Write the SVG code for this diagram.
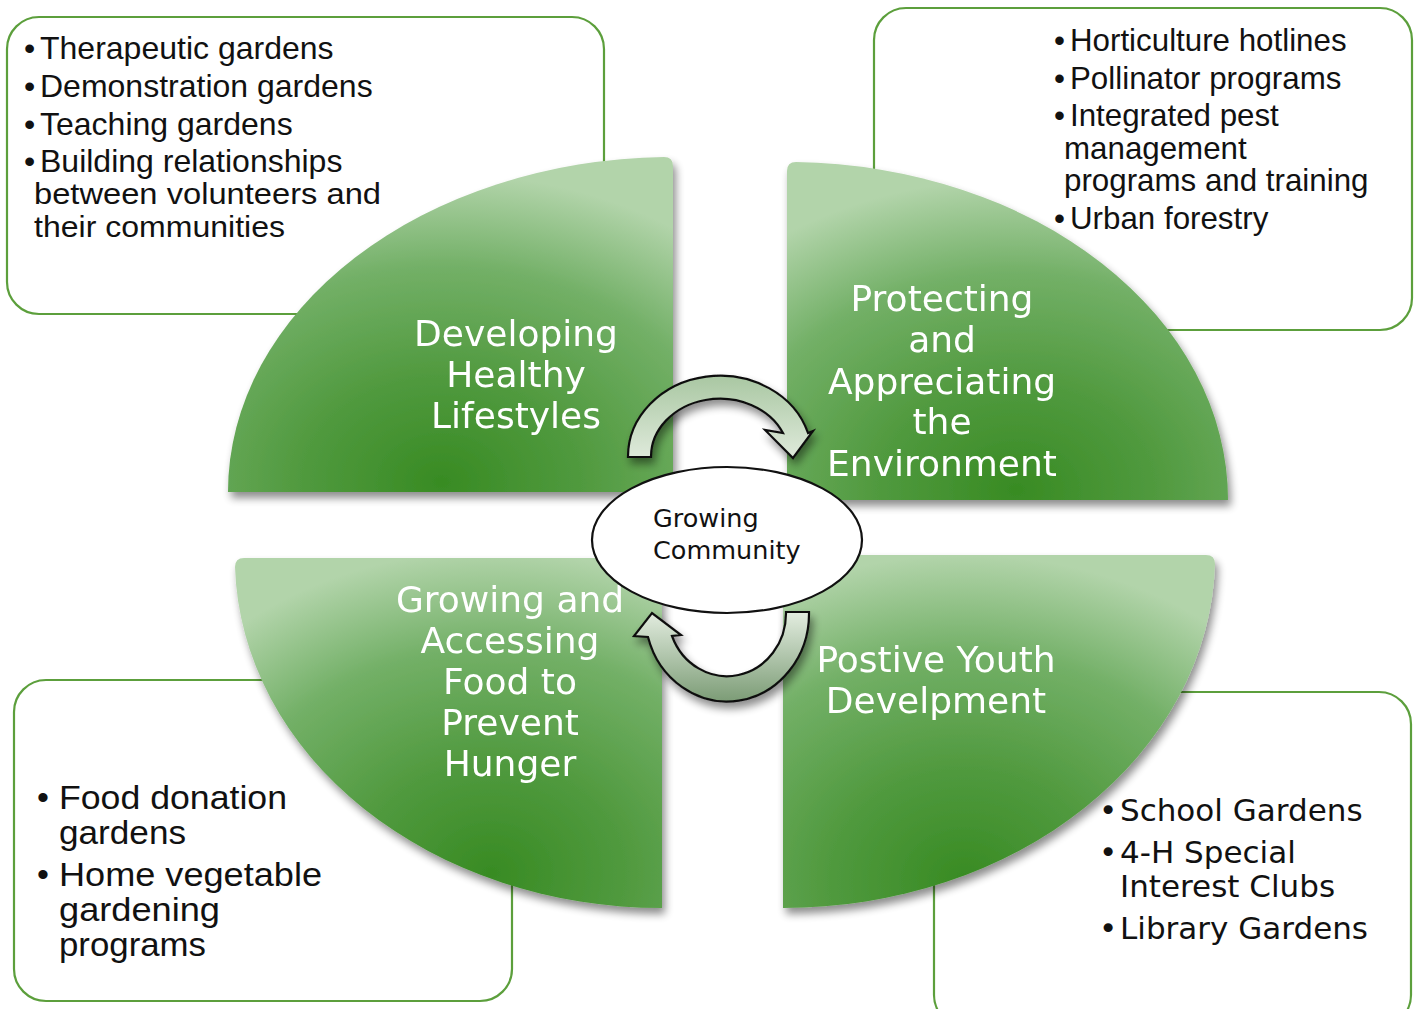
<svg xmlns="http://www.w3.org/2000/svg" width="1417" height="1009" viewBox="0 0 1417 1009">
<defs>
<style>
.box{fill:#fff;stroke:#5c9f3c;stroke-width:2.2}
.bt{font-family:"Liberation Sans",Arial,sans-serif;fill:#111}
.lbl{font-family:"DejaVu Sans","Liberation Sans",sans-serif;font-size:36px;fill:#fff;text-anchor:middle}
.br{font-family:"DejaVu Sans","Liberation Sans",sans-serif;font-size:31px;fill:#111}
.ell{font-family:"DejaVu Sans","Liberation Sans",sans-serif;font-size:25.5px;fill:#111}
.arr{stroke:#111;stroke-width:2.2;stroke-linejoin:miter}
</style>
<filter id="sh" x="-10%" y="-10%" width="130%" height="130%">
<feGaussianBlur in="SourceAlpha" stdDeviation="4"/>
<feOffset dx="3" dy="6" result="b"/>
<feComponentTransfer><feFuncA type="linear" slope="0.45"/></feComponentTransfer>
<feMerge><feMergeNode/><feMergeNode in="SourceGraphic"/></feMerge>
</filter>
<radialGradient id="gTL" cx="0.48" cy="0.97" r="0.92">
<stop offset="0" stop-color="#388b23"/><stop offset="0.35" stop-color="#519a3f"/><stop offset="0.7" stop-color="#73b067"/><stop offset="1" stop-color="#b2d4aa"/>
</radialGradient>
<radialGradient id="gTR" cx="0.52" cy="0.97" r="0.92">
<stop offset="0" stop-color="#388b23"/><stop offset="0.35" stop-color="#519a3f"/><stop offset="0.7" stop-color="#73b067"/><stop offset="1" stop-color="#b2d4aa"/>
</radialGradient>
<radialGradient id="gBL" cx="0.6" cy="0.9" r="0.92">
<stop offset="0" stop-color="#388b23"/><stop offset="0.35" stop-color="#519a3f"/><stop offset="0.7" stop-color="#73b067"/><stop offset="1" stop-color="#b2d4aa"/>
</radialGradient>
<radialGradient id="gBR" cx="0.42" cy="0.92" r="0.92">
<stop offset="0" stop-color="#388b23"/><stop offset="0.35" stop-color="#519a3f"/><stop offset="0.7" stop-color="#73b067"/><stop offset="1" stop-color="#b2d4aa"/>
</radialGradient>
<linearGradient id="gA1" x1="0" y1="0" x2="0" y2="1">
<stop offset="0" stop-color="#a9c7a2"/><stop offset="1" stop-color="#dfeadb"/>
</linearGradient>
<linearGradient id="gA2" x1="0" y1="1" x2="0" y2="0">
<stop offset="0" stop-color="#7c9c76"/><stop offset="1" stop-color="#e3ede0"/>
</linearGradient>
</defs>

<g id="box-tl">
<rect class="box" x="7" y="17" width="597" height="297" rx="32"/>
<g class="bt" font-size="32">
<text x="24" y="59">•</text><text x="40" y="59">Therapeutic gardens</text>
<text x="24" y="97">•</text><text x="40" y="97">Demonstration gardens</text>
<text x="24" y="135">•</text><text x="40" y="135">Teaching gardens</text>
<text x="24" y="172">•</text><text x="40" y="172">Building relationships</text>
<text x="34" y="204" font-size="30" textLength="347" lengthAdjust="spacingAndGlyphs">between volunteers and</text>
<text x="34" y="237" font-size="30" textLength="251" lengthAdjust="spacingAndGlyphs">their communities</text>
</g>
</g>

<g id="box-tr">
<rect class="box" x="874" y="8" width="538" height="322" rx="32"/>
<g class="bt" font-size="31.3">
<text x="1054" y="51">•</text><text x="1070" y="51">Horticulture hotlines</text>
<text x="1054" y="89">•</text><text x="1070" y="89">Pollinator programs</text>
<text x="1054" y="126">•</text><text x="1070" y="126">Integrated pest</text>
<text x="1064" y="159">management</text>
<text x="1064" y="191">programs and training</text>
<text x="1054" y="229">•</text><text x="1070" y="229">Urban forestry</text>
</g>
</g>

<g id="box-bl">
<rect class="box" x="14" y="680" width="498" height="321" rx="32"/>
<g class="bt" font-size="34">
<text x="37" y="809">•</text><text x="59" y="809" textLength="228" lengthAdjust="spacingAndGlyphs">Food donation</text>
<text x="59" y="844" textLength="127" lengthAdjust="spacingAndGlyphs">gardens</text>
<text x="37" y="886">•</text><text x="59" y="886" textLength="263" lengthAdjust="spacingAndGlyphs">Home vegetable</text>
<text x="59" y="921" textLength="161" lengthAdjust="spacingAndGlyphs">gardening</text>
<text x="59" y="956" textLength="147" lengthAdjust="spacingAndGlyphs">programs</text>
</g>
</g>

<g id="box-br">
<rect class="box" x="934" y="692" width="477" height="335" rx="32"/>
<g class="br">
<text x="1099" y="821">•</text><text x="1120" y="821">School Gardens</text>
<text x="1099" y="863">•</text><text x="1120" y="863">4-H Special</text>
<text x="1120" y="897">Interest Clubs</text>
<text x="1099" y="939">•</text><text x="1120" y="939">Library Gardens</text>
</g>
</g>

<g id="q-tl" filter="url(#sh)">
<path d="M228,492 A445,335 0 0 1 664,157 Q673,157 673,166 L673,492 Z" fill="url(#gTL)"/>
<g class="lbl"><text x="516" y="346">Developing</text><text x="516" y="387">Healthy</text><text x="516" y="428">Lifestyles</text></g>
</g>

<g id="q-tr" filter="url(#sh)">
<path d="M787,500 L787,171 Q787,162 796,162 A441,338 0 0 1 1228,500 Z" fill="url(#gTR)"/>
<g class="lbl"><text x="942" y="311">Protecting</text><text x="942" y="352">and</text><text x="942" y="394">Appreciating</text><text x="942" y="434">the</text><text x="942" y="476">Environment</text></g>
</g>

<g id="q-bl" filter="url(#sh)">
<path d="M244,558 L662,558 L662,908 A427,350 0 0 1 235,567 Q235,558 244,558 Z" fill="url(#gBL)"/>
<g class="lbl"><text x="510" y="612">Growing and</text><text x="510" y="653">Accessing</text><text x="510" y="694">Food to</text><text x="510" y="735">Prevent</text><text x="510" y="776">Hunger</text></g>
</g>

<g id="q-br" filter="url(#sh)">
<path d="M783,555 L1206,555 Q1215,555 1215,564 A432,353 0 0 1 783,908 Z" fill="url(#gBR)"/>
<g class="lbl"><text x="936" y="672">Postive Youth</text><text x="936" y="713">Develpment</text></g>
</g>

<g id="connectors" filter="url(#sh)">
<path class="arr" fill="url(#gA1)" d="M628,457 A92,81 0 0 1 808,433 L813,431 L793,458 L765,430 L783,433 A69,58 0 0 0 651,457 Z"/>
<path class="arr" fill="url(#gA2)" d="M809,612 A82,88 0 0 1 648,637 L634,636 L652,613 L681,635 L672,636 A59,63 0 0 0 786,612 Z"/>
</g>

<g id="center">
<ellipse cx="727" cy="540" rx="135" ry="73" fill="#fff" stroke="#111" stroke-width="2.2"/>
<text class="ell" x="653" y="527">Growing</text>
<text class="ell" x="653" y="559">Community</text>
</g>
</svg>
